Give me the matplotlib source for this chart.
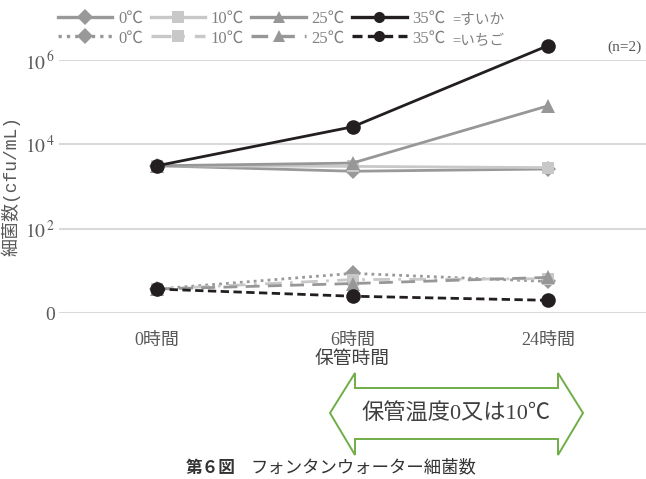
import matplotlib
matplotlib.use("Agg")
import matplotlib.pyplot as plt
from matplotlib.lines import Line2D
from matplotlib.patches import Polygon
from matplotlib.ticker import NullLocator

JP = ["Liberation Serif", "Noto Sans CJK JP", "DejaVu Sans"]
plt.rcParams["font.family"] = JP
plt.rcParams["mathtext.fontset"] = "stix"

hours = ["0時間", "6時間", "24時間"]
temps = ["0℃", "10℃", "25℃", "35℃"]

# watermelon (すいか) counts, cfu/mL
suika_0 = [3.1e3, 2.3e3, 2.6e3]
suika_10 = [3.1e3, 3.0e3, 2.8e3]
suika_25 = [3.1e3, 3.6e3, 8.2e4]
suika_35 = [3.1e3, 2.6e4, 2.2e6]

# strawberry (いちご) counts, cfu/mL
ichigo_0 = [3.7, 8.7, 5.6]
ichigo_10 = [3.7, 6.2, 6.5]
ichigo_25 = [3.7, 5.0, 7.0]
ichigo_35 = [3.7, 2.5, 2.0]

yticks = [1, 1e2, 1e4, 1e6]
ytick_labels = ["0", r"$10^{\,2}$", r"$10^{\,4}$", r"$10^{\,6}$"]

c_0 = "#999999"
c_10 = "#c8c8c8"
c_25 = "#979797"
c_35 = "#231f20"

styles = [
    (suika_0, c_0, "-", "D", 8),
    (suika_10, c_10, "-", "s", 9),
    (suika_25, c_25, "-", "^", 10),
    (suika_35, c_35, "-", "o", 10.5),
]
styles_i = [
    (ichigo_0, c_0, (0, (1, 1.5)), "D", 8),
    (ichigo_10, c_10, (0, (6, 3, 1, 3)), "s", 9),
    (ichigo_25, c_25, (0, (5, 3)), "^", 10),
    (ichigo_35, c_35, (0, (3, 1.6)), "o", 10.5),
]

fig = plt.figure(figsize=(6.46, 4.79), dpi=100)
ax = fig.add_axes([59 / 646, 166 / 479, 587 / 646, 253 / 479])

x = list(range(len(hours)))
for vals, col, ls, mk, ms in styles_i + styles:
    ax.plot(x, vals, color=col, linestyle=ls, lw=2, marker=mk, markersize=ms,
            markeredgewidth=0, clip_on=False, zorder=3)

ax.set_yscale("log")
ax.set_ylim(1, 1e6)
ax.set_xlim(-0.5, 2.5)
ax.set_yticks(yticks)
ax.set_yticklabels(ytick_labels)
ax.yaxis.set_minor_locator(NullLocator())
ax.set_xticks(x)
ax.set_xticklabels(hours)
ax.tick_params(length=0, labelcolor="#595959")
ax.tick_params(axis="x", pad=14, labelsize=13)
ax.tick_params(axis="y", pad=3, labelsize=14)
ax.grid(axis="y", color="#d9d9d9", lw=1.5)
ax.set_axisbelow(True)
for s in ax.spines.values():
    s.set_visible(False)

ax.set_xlabel("保管時間", fontsize=13.5, color="#404040", labelpad=1)
ax.set_ylabel("細菌数(cfu/mL)", fontsize=13, color="#595959", labelpad=3,
              family=["Liberation Mono", "Noto Sans CJK JP"])

# legend: top row watermelon, bottom row strawberry
handles = []
for (sv, sc, sls, smk, _), (iv, ic, ils, imk, _) in zip(styles, styles_i):
    handles.append(Line2D([], [], color=sc, ls=sls, lw=2.4, marker=smk, markersize=8,
                          markeredgewidth=0))
    handles.append(Line2D([], [], color=ic, ls=ils, lw=2.4, marker=imk, markersize=8,
                          markeredgewidth=0))
labels = []
for t in temps:
    labels += [t, t]
leg = fig.legend(handles, labels, ncol=4, loc="upper left",
                 bbox_to_anchor=(58 / 646, 1 - 11 / 479), frameon=False, borderpad=0,
                 borderaxespad=0, fontsize=12, handlelength=3.25, handletextpad=0.36,
                 columnspacing=0.45, labelspacing=0.2)
for t in leg.get_texts():
    t.set_color("#808080")

fig.text(452 / 646, 1 - 20 / 479, "=すいか", fontsize=10.5, color="#808080", va="center")
fig.text(452 / 646, 1 - 41 / 479, "=いちご", fontsize=10.5, color="#808080", va="center")
fig.text(607 / 646, 1 - 47 / 479, "(n=2)", fontsize=11, color="#595959", va="center")

# storage temperature double arrow
pts = [(330, 413), (355, 373), (355, 388), (558, 388), (558, 373), (583, 413),
       (558, 455), (558, 439), (355, 439), (355, 455)]
poly = Polygon([(px / 646, 1 - py / 479) for px, py in pts], closed=True,
               transform=fig.transFigure, facecolor="white", edgecolor="#70ad47", lw=1.4)
fig.patches.append(poly)
fig.text(456 / 646, 1 - 414 / 479, "保管温度0又は10℃", fontsize=16, color="#404040",
         ha="center", va="center")

# caption
fig.text(236 / 646, 1 - 468 / 479, "第６図", fontsize=12, fontweight="bold",
         color="#333333", ha="right", va="center", family=["Noto Sans CJK JP"])
fig.text(250 / 646, 1 - 468 / 479, "フォンタンウォーター細菌数", fontsize=12.5,
         color="#333333", ha="left", va="center")

fig.savefig("out.png", dpi=100)
